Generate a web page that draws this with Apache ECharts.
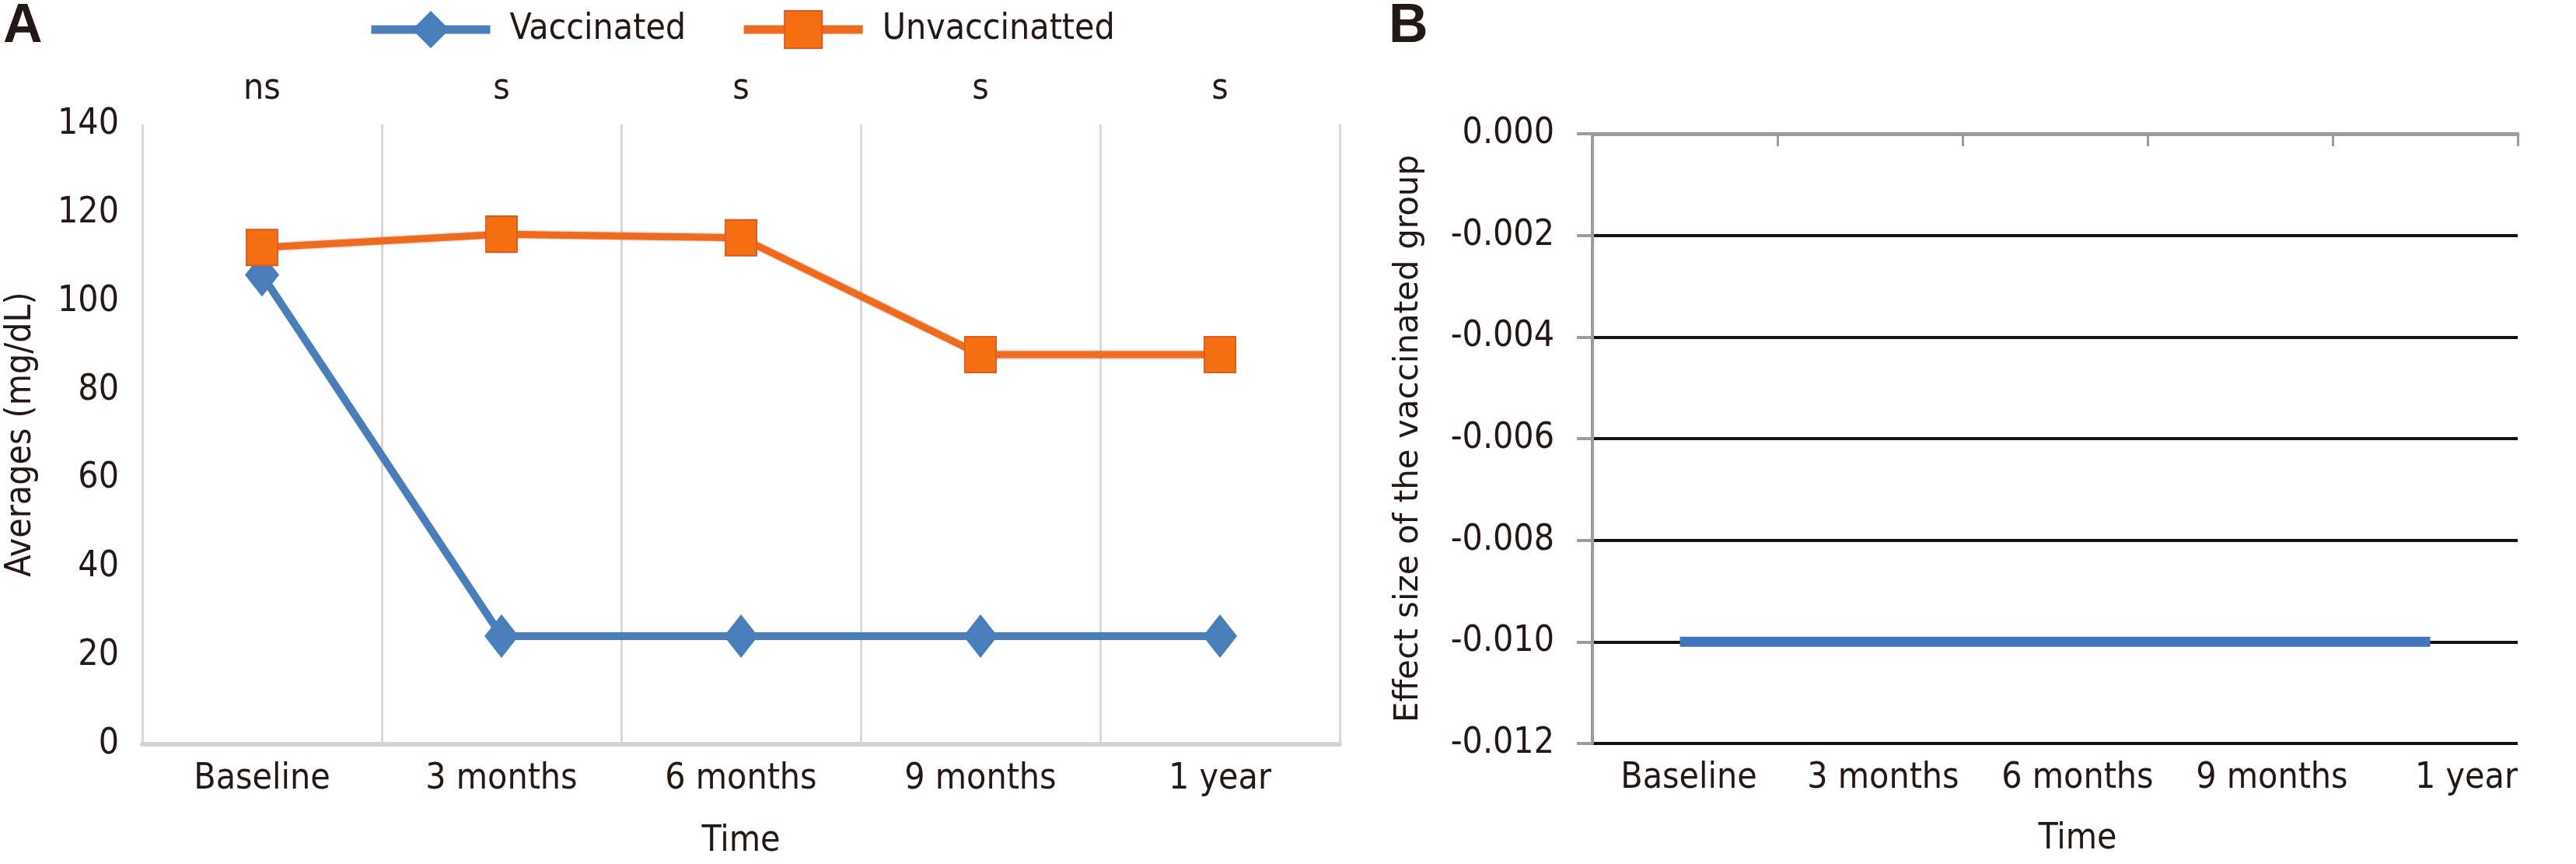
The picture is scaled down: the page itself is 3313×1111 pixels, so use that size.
<!DOCTYPE html>
<html>
<head>
<meta charset="utf-8">
<script src="https://cdn.jsdelivr.net/npm/echarts@6/dist/echarts.min.js"></script>
<style>
html,body{margin:0;padding:0;background:#fff;}
#chart{width:3313px;height:1111px;}
</style>
</head>
<body>
<div id="chart"></div>
<script>
// ---- data ----
const categories = ['Baseline', '3 months', '6 months', '9 months', '1 year'];
const sigLabels = ['ns', 's', 's', 's', 's'];
const vaccinated = [106, 24.4, 24.4, 24.4, 24.4];
const unvaccinated = [112.2, 115.2, 114.4, 88, 88];
const effectSize = [-0.010, -0.010, -0.010, -0.010, -0.010];
const seriesNames = ['Vaccinated', 'Unvaccinatted'];
const axisA = { min: 0, max: 140, interval: 20 };
const axisB = { min: -0.012, max: 0, interval: 0.002 };

const FONT = "'DejaVu Sans Condensed','Liberation Sans',sans-serif";
const TXT = '#231815';
const FS = 46;

const chart = echarts.init(document.getElementById('chart'), null, { renderer: 'canvas' });

const option = {
  backgroundColor: '#fff',
  animation: false,
  textStyle: { fontFamily: FONT, color: TXT },
  title: [
    { text: 'A', left: 4, top: 0, padding: 0, textStyle: { fontFamily: "'Liberation Sans',sans-serif", fontWeight: 'bold', fontSize: 70, color: TXT } },
    { text: 'B', left: 1786, top: 0, padding: 0, textStyle: { fontFamily: "'Liberation Sans',sans-serif", fontWeight: 'bold', fontSize: 70, color: TXT } }
  ],
  legend: {
    data: seriesNames,
    left: 467, top: 8,
    itemWidth: 153, itemHeight: 60, itemGap: 69,
    lineStyle: { width: 11 },
    textStyle: { fontFamily: FONT, fontSize: FS, color: TXT, padding: [0, 0, 0, 20] }
  },
  grid: [
    { left: 183, right: 3313 - 1723, top: 160, bottom: 1111 - 957, containLabel: false },
    { left: 2048, right: 3313 - 3238, top: 172, bottom: 1111 - 956, containLabel: false },
    { left: 2047, right: 3313 - 3297, top: 172, bottom: 1111 - 956, containLabel: false }
  ],
  xAxis: [
    { // A bottom
      type: 'category', gridIndex: 0, data: categories, boundaryGap: true,
      axisLine: { show: true, onZero: false, lineStyle: { color: '#d4d4d4', width: 6 } },
      axisTick: { show: false },
      axisLabel: { interval: 0, fontFamily: FONT, fontSize: FS, color: TXT, margin: 22 },
      splitLine: { show: true, interval: 0, lineStyle: { color: '#d9d9d9', width: 3 } },
      name: 'Time', nameLocation: 'middle', nameGap: 102,
      nameTextStyle: { fontFamily: FONT, fontSize: FS, color: TXT }
    },
    { // A top significance labels
      type: 'category', gridIndex: 0, position: 'top', data: sigLabels, boundaryGap: true,
      axisLine: { show: false }, axisTick: { show: false }, splitLine: { show: false },
      axisLabel: { interval: 0, fontFamily: FONT, fontSize: FS, color: TXT, margin: 22 }
    },
    { // B top axis with ticks
      type: 'category', gridIndex: 1, position: 'top', data: categories, boundaryGap: true,
      axisLine: { show: true, onZero: false, lineStyle: { color: '#9c9c9c', width: 5 } },
      axisTick: { show: true, interval: 0, inside: true, length: 16, lineStyle: { color: '#9c9c9c', width: 3 } },
      axisLabel: { show: false }, splitLine: { show: false }
    },
    { // B bottom label axis
      type: 'category', gridIndex: 2, data: categories, boundaryGap: true,
      axisLine: { show: false, onZero: false }, axisTick: { show: false }, splitLine: { show: false },
      axisLabel: { interval: 0, fontFamily: FONT, fontSize: FS, color: TXT, margin: 22 },
      name: 'Time', nameLocation: 'middle', nameGap: 100,
      nameTextStyle: { fontFamily: FONT, fontSize: FS, color: TXT }
    }
  ],
  yAxis: [
    {
      type: 'value', gridIndex: 0, min: axisA.min, max: axisA.max, interval: axisA.interval,
      axisLine: { show: false }, axisTick: { show: false }, splitLine: { show: false },
      axisLabel: { fontFamily: FONT, fontSize: FS, color: TXT, margin: 30 },
      name: 'Averages (mg/dL)', nameLocation: 'middle', nameGap: 133,
      nameTextStyle: { fontFamily: FONT, fontSize: FS, color: TXT }
    },
    {
      type: 'value', gridIndex: 1, min: axisB.min, max: axisB.max, interval: axisB.interval,
      axisLine: { show: true, lineStyle: { color: '#9c9c9c', width: 4 } },
      axisTick: { show: true, length: 20, lineStyle: { color: '#9c9c9c', width: 4 } },
      splitLine: { show: true, lineStyle: { color: ['#111', '#111', '#111', '#111', '#111', '#111', '#9c9c9c'], width: 4 } },
      axisLabel: { fontFamily: FONT, fontSize: FS, color: TXT, margin: 49, formatter: v => v.toFixed(3) },
      name: 'Effect size of the vaccinated group', nameLocation: 'middle', nameGap: 215,
      nameTextStyle: { fontFamily: "'DejaVu Sans',sans-serif", fontSize: 42, color: TXT }
    },
    {
      type: 'value', gridIndex: 2, min: axisB.min, max: axisB.max, show: false
    }
  ],
  series: [
    {
      name: seriesNames[0], type: 'line', xAxisIndex: 0, yAxisIndex: 0, data: vaccinated,
      symbol: 'diamond', symbolSize: [44, 56],
      itemStyle: { color: '#4a7ebb' },
      lineStyle: { color: '#4a7ebb', width: 10 },
      z: 2
    },
    {
      name: seriesNames[1], type: 'line', xAxisIndex: 0, yAxisIndex: 0, data: unvaccinated,
      symbol: 'rect', symbolSize: [40, 46],
      itemStyle: { color: '#f66f10', borderColor: '#dc5a22', borderWidth: 2 },
      lineStyle: { color: '#ee6a1c', width: 9, shadowColor: 'rgba(190,40,20,0.5)', shadowBlur: 3 },
      z: 3
    },
    {
      name: 'Effect size', type: 'line', xAxisIndex: 2, yAxisIndex: 1, data: effectSize,
      symbol: 'none',
      lineStyle: { color: '#3f75b9', width: 13, cap: 'square' },
      z: 3
    }
  ]
};
chart.setOption(option);
</script>
</body>
</html>
